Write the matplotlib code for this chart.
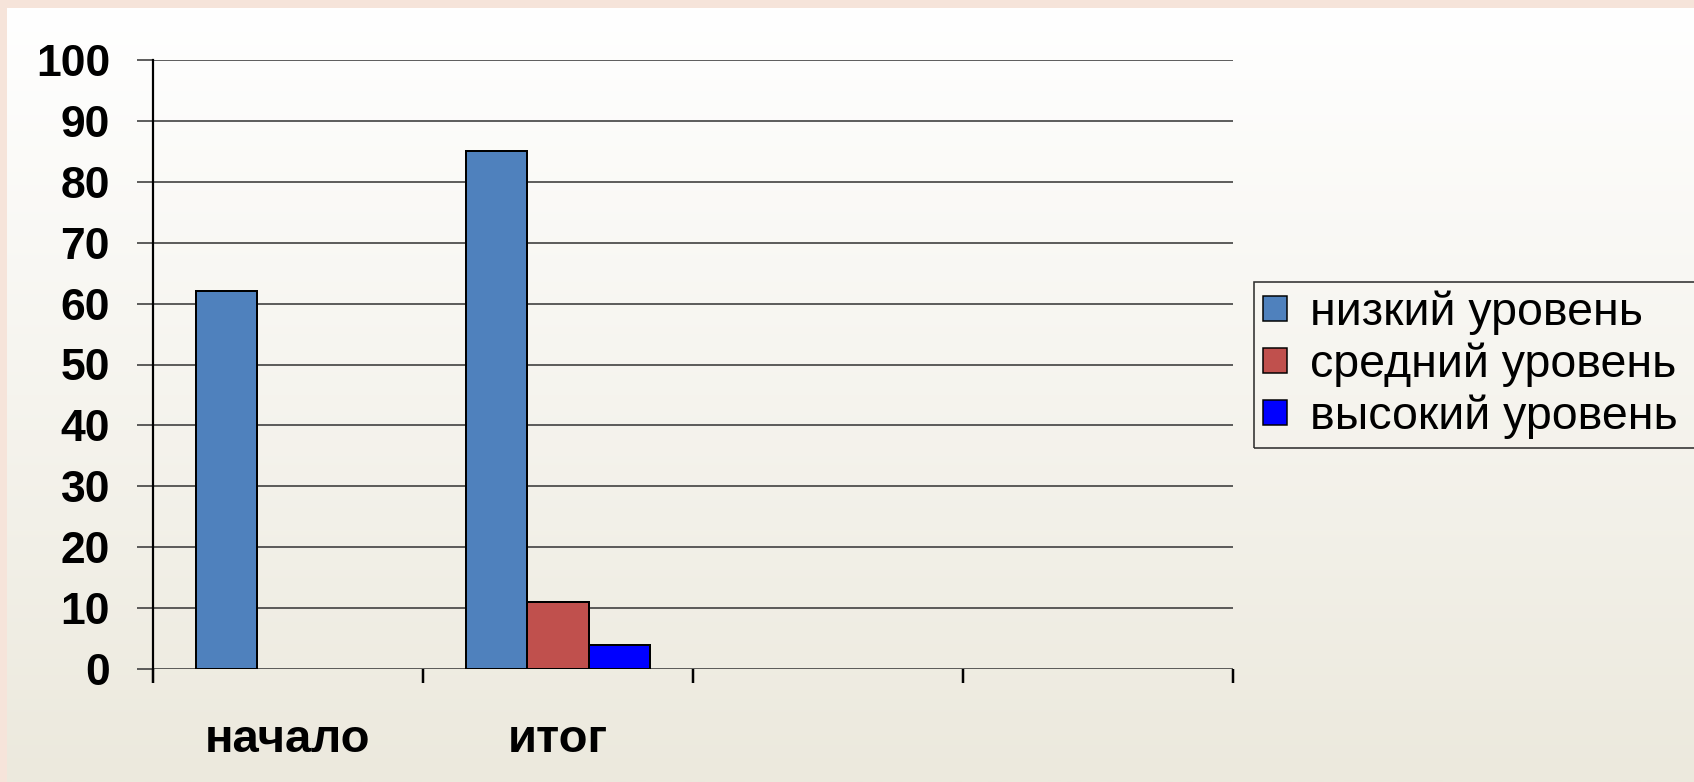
import numpy as np
import matplotlib
matplotlib.use("Agg")
import matplotlib.pyplot as plt
from matplotlib.patches import Rectangle

# data
categories = ['начало', 'итог', '', '']
series_names = ['низкий уровень', 'средний уровень', 'высокий уровень']
low_level = [62, 85]
mid_level = [np.nan, 11]
high_level = [np.nan, 4]
y_ticks = [0, 10, 20, 30, 40, 50, 60, 70, 80, 90, 100]

colors = ['#4F81BD', '#C0504D', '#0000FF']

W, H = 1694, 782
PX = 72 / 100  # one pixel in points at dpi 100
plt.rcParams['font.family'] = ['Liberation Sans', 'DejaVu Sans']

fig = plt.figure(figsize=(W / 100, H / 100), dpi=100)

# slide background: pink border on top/left, white -> beige gradient panel
bg = fig.add_axes([0, 0, 1, 1], zorder=-10)
bg.set_xlim(0, W)
bg.set_ylim(H, 0)
bg.axis('off')
bg.add_patch(Rectangle((0, 0), W, H, color='#F6E4DA', zorder=0))
top = np.array([255, 255, 255]) / 255
bottom = np.array([236, 233, 221]) / 255
t = np.linspace(0, 1, 256)[:, None]
grad = (top + (bottom - top) * t)[:, None, :]
bg.imshow(grad, extent=[7, W, H, 8], aspect='auto', interpolation='bilinear', zorder=1)

# plot area in pixels
x0, x1 = 153, 1233
y_top, y_bot = 60, 669
ax = fig.add_axes([x0 / W, (H - y_bot) / H, (x1 - x0) / W, (y_bot - y_top) / H])
ax.patch.set_alpha(0)

bw = 0.227
xs = np.arange(len(low_level))
for i, (vals, name) in enumerate(zip([low_level, mid_level, high_level], series_names)):
    ax.bar(xs + (i - 1) * bw, vals, width=bw, color=colors[i], edgecolor='black',
           linewidth=2 * PX, label=name, zorder=3)

ax.set_xlim(-0.5, len(categories) - 0.5)
ax.set_ylim(0, 100)
ax.set_yticks(y_ticks)
ax.yaxis.grid(True, color='#3a3a3a', linewidth=1.6 * PX, zorder=0)
for s in ['top', 'right', 'bottom']:
    ax.spines[s].set_visible(False)
ax.spines['left'].set_linewidth(2.2 * PX)
ax.spines['left'].set_color('black')

ax.tick_params(axis='y', length=16 * PX, width=1.6 * PX, color='#3a3a3a', pad=27 * PX,
               labelsize=32)
for lab in ax.get_yticklabels():
    lab.set_fontweight('bold')

# category labels at centres, tick marks at boundaries
ax.set_xticks(np.arange(len(categories)))
ax.set_xticklabels(categories, fontsize=34, fontweight='bold')
ax.tick_params(axis='x', which='major', length=0, pad=35)
ax.set_xticks(np.arange(len(categories) + 1) - 0.5, minor=True)
ax.tick_params(axis='x', which='minor', length=14 * PX, width=2.5 * PX, color='black')

# legend box runs off the right edge of the slide, as in the original
lx = (1254 - x0) / (x1 - x0)
lw = (1705 - 1254) / (x1 - x0)
ly = (y_bot - 282) / (y_bot - y_top)
leg = ax.legend(loc='upper left', bbox_to_anchor=(lx, ly, lw, 0), mode='expand',
                fontsize=33.5, frameon=True, fancybox=False, edgecolor='black',
                handlelength=0.52, handleheight=0.45, handletextpad=0.5,
                labelspacing=0.16, borderpad=0.19, borderaxespad=0)
leg.get_frame().set_linewidth(1.6 * PX)
leg.get_frame().set_facecolor('none')
for h in leg.legend_handles:
    h.set_linewidth(1.5 * PX)

fig.savefig('out.png', dpi=100)
